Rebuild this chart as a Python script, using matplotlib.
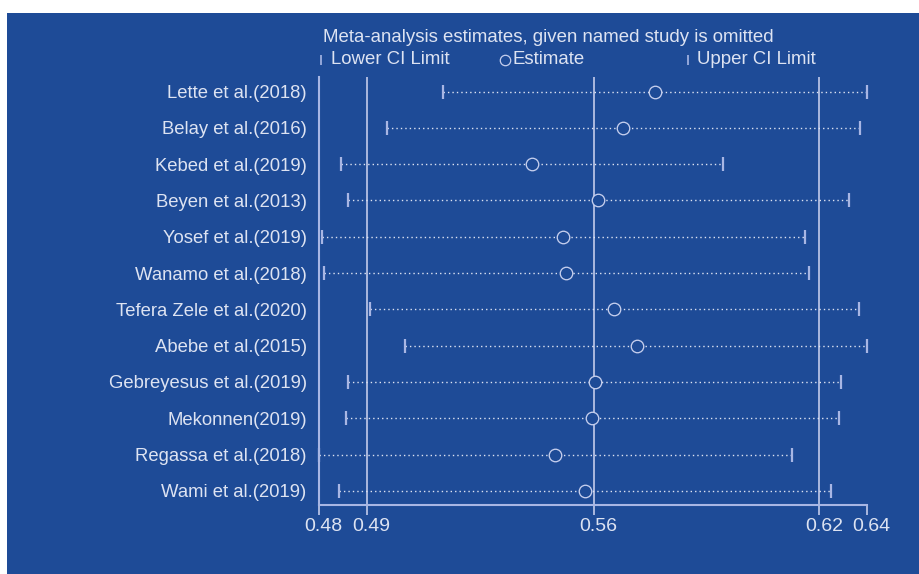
import matplotlib
matplotlib.use('Agg')
import matplotlib.pyplot as plt
from matplotlib.lines import Line2D
from matplotlib.patches import Rectangle
from matplotlib.transforms import ScaledTranslation
import numpy as np

# 数据
studies = ['Lette et al.(2018)', 'Belay et al.(2016)', 'Kebed et al.(2019)',
           'Beyen et al.(2013)', 'Yosef et al.(2019)', 'Wanamo et al.(2018)',
           'Tefera Zele et al.(2020)', 'Abebe et al.(2015)',
           'Gebreyesus et al.(2019)', 'Mekonnen(2019)', 'Regassa et al.(2018)',
           'Wami et al.(2019)']
estimate = [0.5751, 0.5660, 0.5401, 0.5588, 0.5490, 0.5497,
            0.5634, 0.5698, 0.5580, 0.5572, 0.5466, 0.5551]
lower_ci = [0.5149, 0.4988, 0.4858, 0.4877, 0.4804, 0.4810,
            0.4940, 0.5040, 0.4878, 0.4872, 0.4794, 0.4852]
upper_ci = [0.6354, 0.6334, 0.5945, 0.6302, 0.6177, 0.6189,
            0.6330, 0.6352, 0.6278, 0.6273, 0.6141, 0.6252]
pooled_est = 0.5576
pooled_lo = 0.4932
pooled_hi = 0.6218

# 颜色
bg = '#1e4b97'
fg = '#dde3f2'
line_col = '#c3cbea'
cap_col = '#a8b6e4'
circ_col = '#c6cfee'

plt.rcParams['font.family'] = ['Liberation Sans', 'DejaVu Sans']

W, H = 920, 574
fig = plt.figure(figsize=(W / 100, H / 100), dpi=100, facecolor='white')
fig.add_artist(Rectangle((7 / W, 0), 1, 1 - 13 / H, transform=fig.transFigure,
                         facecolor=bg, edgecolor='none', zorder=-10))

ax = fig.add_axes([318.5 / W, 69 / H, 548.8 / W, 428 / H])
ax.set_facecolor('none')

y = np.arange(1, len(studies) + 1)

# 参考线
for v in [pooled_lo, pooled_est, pooled_hi]:
    ax.axvline(v, color=line_col, lw=1.2, zorder=1)

# 置信区间（虚线 + 端点）
ax.hlines(y, lower_ci, upper_ci, colors=fg, linestyles=(0, (1, 2.2)), lw=1, zorder=2)
ax.plot(lower_ci, y, '|', ms=9.5, mew=1.6, color=cap_col, clip_on=False, zorder=3)
ax.plot(upper_ci, y, '|', ms=9.5, mew=1.6, color=cap_col, clip_on=False, zorder=3)
ax.plot(estimate, y, 'o', ms=9, mfc=bg, mec=circ_col, mew=0.95, clip_on=False, zorder=4)

ax.set_xlim(min(lower_ci), max(upper_ci))
ax.set_ylim(12.39, 0.6)

xt = [min(lower_ci), pooled_lo, pooled_est, pooled_hi, max(upper_ci)]
ax.set_xticks(xt)
ax.set_xticklabels([f'{v:.2f}' for v in xt])
ax.tick_params(axis='x', length=7.2, width=1.2, color=line_col, labelcolor=fg,
               labelsize=14, pad=2)
for lab in ax.get_xticklabels():
    lab.set_transform(lab.get_transform() + ScaledTranslation(0.045, 0, fig.dpi_scale_trans))

ax.set_yticks(y)
ax.set_yticklabels(studies)
ax.tick_params(axis='y', length=0, labelcolor=fg, labelsize=13.3, pad=8.5)

for s in ['top', 'right']:
    ax.spines[s].set_visible(False)
for s in ['left', 'bottom']:
    ax.spines[s].set_color(cap_col)
    ax.spines[s].set_linewidth(1.5)

# 标题和图例
fig.text(548 / W, 1 - 37 / H, 'Meta-analysis estimates, given named study is omitted',
         ha='center', va='center', fontsize=13.4, color=fg)
ly = 1 - 60 / H
fig.add_artist(Line2D([321 / W], [ly], marker='|', ms=7, mew=1.2, color=cap_col,
                      transform=fig.transFigure))
fig.text(331 / W, ly, 'Lower CI Limit', ha='left', va='center', fontsize=13.4, color=fg)
fig.add_artist(Line2D([505 / W], [ly], marker='o', ms=7.5, mfc=bg, mec=circ_col, mew=0.9,
                      transform=fig.transFigure))
fig.text(513 / W, ly, 'Estimate', ha='left', va='center', fontsize=13.4, color=fg)
fig.add_artist(Line2D([688 / W], [ly], marker='|', ms=7, mew=1.2, color=cap_col,
                      transform=fig.transFigure))
fig.text(697 / W, ly, 'Upper CI Limit', ha='left', va='center', fontsize=13.4, color=fg)

fig.savefig('out.png', dpi=100)
